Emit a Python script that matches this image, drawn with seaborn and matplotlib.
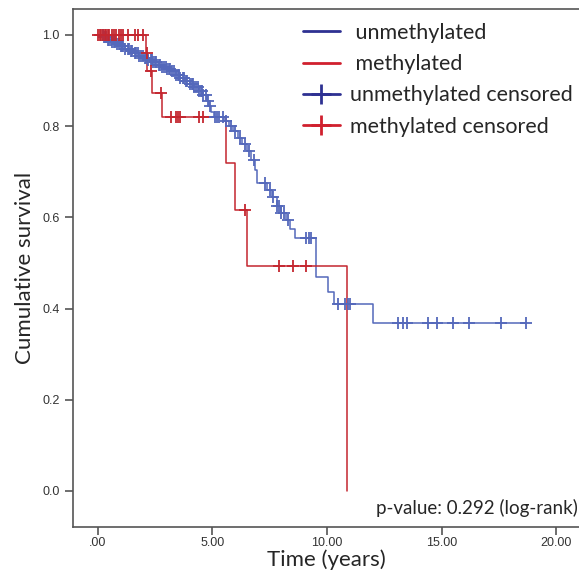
import numpy as np
import matplotlib
matplotlib.use("Agg")
import matplotlib.pyplot as plt
from matplotlib.lines import Line2D
import seaborn as sns

# step curves: time (years) and survival after each drop
unmeth_t = [0.0, 0.25, 0.4, 0.6, 0.8, 1.0, 1.2, 1.4, 1.6, 1.8, 2.0, 2.2, 2.4, 2.6, 2.8,
            3.0, 3.2, 3.4, 3.6, 3.8, 4.0, 4.2, 4.4, 4.6, 4.75, 4.85, 4.95, 5.05, 5.5,
            5.7, 5.9, 6.1, 6.3, 6.5, 6.7, 6.85, 6.95, 7.4, 7.6, 7.8, 8.0, 8.2, 8.4,
            8.6, 9.5, 10.05, 10.3, 12.0, 18.7]
unmeth_s = [1.0, 0.995, 0.99, 0.985, 0.98, 0.975, 0.97, 0.965, 0.96, 0.955, 0.95, 0.945,
            0.94, 0.935, 0.93, 0.925, 0.92, 0.913, 0.906, 0.90, 0.893, 0.886, 0.878,
            0.868, 0.856, 0.845, 0.832, 0.82, 0.812, 0.80, 0.79, 0.775, 0.76, 0.745,
            0.725, 0.705, 0.675, 0.66, 0.645, 0.625, 0.61, 0.595, 0.575, 0.555, 0.47,
            0.436, 0.41, 0.368, 0.368]
unmeth_cens = [0.2, 0.25, 0.3, 0.35, 0.45, 0.5, 0.55, 0.6, 0.7, 0.75, 0.85, 0.9, 1.0,
               1.05, 1.1, 1.2, 1.3, 1.35, 1.45, 1.5, 1.6, 1.65, 1.75, 1.8, 1.9, 1.95,
               2.05, 2.1, 2.2, 2.3, 2.35, 2.4, 2.5, 2.55, 2.65, 2.7, 2.8, 2.9, 2.95,
               3.0, 3.1, 3.15, 3.25, 3.3, 3.4, 3.5, 3.55, 3.6, 3.7, 3.75, 3.85, 3.9,
               4.0, 4.1, 4.15, 4.2, 4.3, 4.35, 4.4, 4.5, 4.55, 4.6, 4.7, 4.8, 4.9,
               5.1, 5.2, 5.3, 5.45, 5.6, 5.8, 6.0, 6.2, 6.4, 6.6, 6.8, 7.3, 7.5, 7.65,
               7.8, 7.9, 8.0, 8.1, 8.3, 9.1, 9.2, 9.3, 10.5, 10.8, 10.9, 11.0, 13.1,
               13.3, 13.5, 14.4, 14.8, 15.5, 16.2, 17.6, 18.7]

meth_t = [0.0, 2.1, 2.15, 2.35, 2.8, 5.6, 6.0, 6.5, 10.87]
meth_s = [1.0, 0.96, 0.92, 0.873, 0.82, 0.72, 0.616, 0.493, 0.0]
meth_cens = [0.0, 0.1, 0.15, 0.2, 0.3, 0.35, 0.45, 0.5, 0.6, 0.7, 0.8, 0.9, 1.0, 1.1,
             1.3, 1.6, 1.75, 1.97, 2.12, 2.3, 2.75, 3.2, 3.4, 3.5, 3.6, 4.4, 4.6,
             6.4, 7.9, 8.5, 9.1]

x_ticks = [0, 5, 10, 15, 20]
x_labels = [".00", "5.00", "10.00", "15.00", "20.00"]
y_ticks = [0.0, 0.2, 0.4, 0.6, 0.8, 1.0]
y_labels = ["0.0", "0.2", "0.4", "0.6", "0.8", "1.0"]


def surv_at(times, t_step, s_step):
    idx = np.searchsorted(t_step, times, side="right") - 1
    return np.asarray(s_step)[idx]


sns.set_style("white")
plt.rcParams["font.family"] = ["Lato", "DejaVu Sans"]

blue_line = "#5468bb"
red_line = "#c4262f"
blue_leg = "#2e3192"
red_leg = "#d0202e"

fig = plt.figure(figsize=(5.79, 5.73), dpi=100)
ax = fig.add_axes([73 / 579, 46 / 573, 506 / 579, 518 / 573])

sns.lineplot(x=unmeth_t, y=unmeth_s, drawstyle="steps-post", estimator=None, sort=False,
             color=blue_line, linewidth=1.1, ax=ax)
sns.lineplot(x=meth_t, y=meth_s, drawstyle="steps-post", estimator=None, sort=False,
             color=red_line, linewidth=1.1, ax=ax)
sns.scatterplot(x=unmeth_cens, y=surv_at(unmeth_cens, unmeth_t, unmeth_s), marker="+",
                s=64, color=blue_line, linewidth=1.3, ax=ax, zorder=3)
sns.scatterplot(x=meth_cens, y=surv_at(meth_cens, meth_t, meth_s), marker="+",
                s=64, color=red_line, linewidth=1.3, ax=ax, zorder=4)

ax.set_xlim(-1.09, 21.0)
ax.set_ylim(-0.079, 1.057)
ax.set_xticks(x_ticks)
ax.set_xticklabels(x_labels, fontfamily="Liberation Sans")
ax.set_yticks(y_ticks)
ax.set_yticklabels(y_labels, fontfamily="Liberation Sans")
ax.tick_params(axis="both", direction="out", length=6, width=1.2, colors="#555555",
               labelsize=9, labelcolor="#333333", bottom=True, left=True)
ax.tick_params(axis="x", pad=1.5)
for side in ["left", "bottom", "top"]:
    ax.spines[side].set_color("#555555")
    ax.spines[side].set_linewidth(1.2)
ax.spines["right"].set_visible(False)

ax.set_xlabel("Time (years)", fontsize=16, labelpad=0)
ax.set_ylabel("Cumulative survival", fontsize=16, labelpad=5)

ax.text(20.95, -0.037, "p-value: 0.292 (log-rank)", ha="right", va="center", fontsize=13.5)

handles = [
    Line2D([], [], color=blue_leg, linewidth=2),
    Line2D([], [], color=red_leg, linewidth=2),
    Line2D([], [], color=blue_leg, linewidth=2, marker="+", markersize=14, markeredgewidth=2),
    Line2D([], [], color=red_leg, linewidth=2, marker="+", markersize=14, markeredgewidth=2),
]
labels = [" unmethylated", " methylated", "unmethylated censored", "methylated censored"]
fig.legend(handles, labels, loc="upper left", bbox_to_anchor=(303 / 579, 550 / 573),
           frameon=False, fontsize=15.5, handlelength=1.7, handletextpad=0.5,
           labelspacing=0.52, borderpad=0, borderaxespad=0)

fig.savefig("out.png", dpi=100)
